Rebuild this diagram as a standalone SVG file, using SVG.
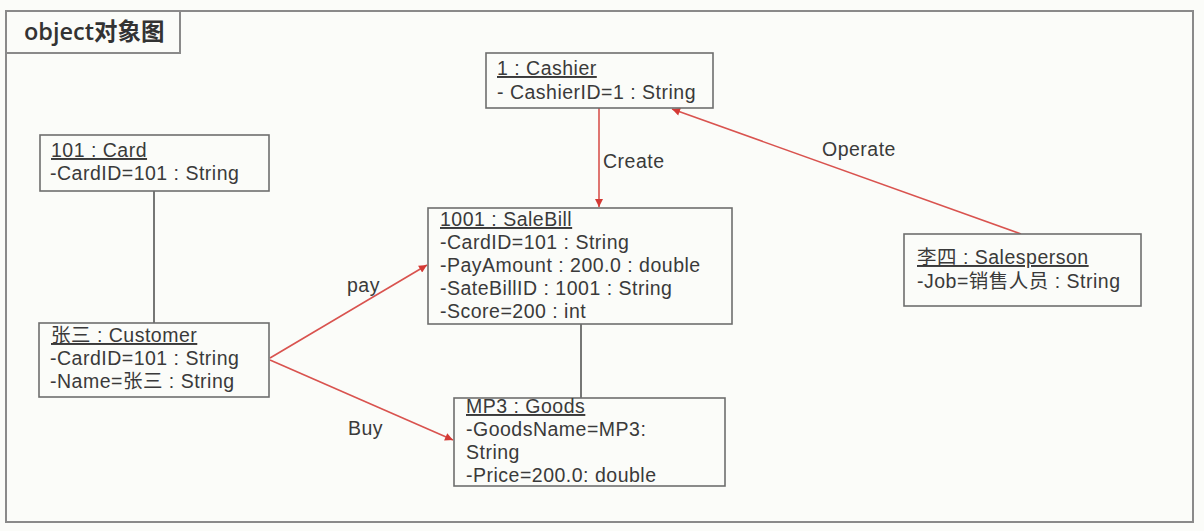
<svg xmlns="http://www.w3.org/2000/svg" width="1204" height="531" viewBox="0 0 1204 531">
<defs>
<style>
.bg{fill:#fbfcf9}
.frame{fill:none;stroke:#8a8a8a;stroke-width:2}
.box{fill:#fbfcf9;stroke:#6e6e6e;stroke-width:1.6}
.t{font-family:"Liberation Sans","Noto Sans CJK SC",sans-serif;font-size:19.5px;letter-spacing:0.5px;fill:#3a3a3a}
.title{font-family:"Open Sans","Noto Sans CJK SC",sans-serif;font-size:23.5px;font-weight:600;fill:#333}
.u{text-decoration:underline}
.red{stroke:#d9534f;stroke-width:1.6;fill:none}
.gray{stroke:#555;stroke-width:1.6;fill:none}
</style>
<marker id="ah" viewBox="0 0 10 10" refX="10" refY="5" markerWidth="9" markerHeight="8" markerUnits="userSpaceOnUse" orient="auto">
<path d="M0,0 L10,5 L0,10 z" fill="#d43a35"/>
</marker>
</defs>
<rect class="bg" x="0" y="0" width="1204" height="531"/>
<g id="frame">
<rect class="frame" x="6" y="11" width="1187" height="511"/>
<path class="frame" d="M6,53 L180,53 L180,11"/>
<text class="title" x="24" y="40">object对象图</text>
</g>
<g id="connectors">
<line class="gray" x1="154" y1="191" x2="154" y2="323"/>
<line class="gray" x1="581" y1="324" x2="581" y2="398"/>
<line class="red" x1="599" y1="108" x2="599" y2="207" marker-end="url(#ah)"/>
<line class="red" x1="1021" y1="234" x2="672" y2="109" marker-end="url(#ah)"/>
<line class="red" x1="270" y1="358" x2="427" y2="265" marker-end="url(#ah)"/>
<line class="red" x1="270" y1="360" x2="453" y2="440" marker-end="url(#ah)"/>
<text class="t" x="603" y="168">Create</text>
<text class="t" x="822" y="156">Operate</text>
<text class="t" x="347" y="292">pay</text>
<text class="t" x="348" y="435">Buy</text>
</g>
<g id="card">
<rect class="box" x="40" y="135" width="229" height="56"/>
<text class="t u" x="51" y="157">101 : Card</text>
<text class="t" x="50" y="180">-CardID=101 : String</text>
</g>
<g id="customer">
<rect class="box" x="39" y="323" width="230" height="74"/>
<text class="t u" x="51" y="342">张三 : Customer</text>
<text class="t" x="50" y="365">-CardID=101 : String</text>
<text class="t" x="50" y="388">-Name=张三 : String</text>
</g>
<g id="cashier">
<rect class="box" x="486" y="53" width="227" height="55"/>
<text class="t u" x="497" y="75">1 : Cashier</text>
<text class="t" x="497" y="99">- CashierID=1 : String</text>
</g>
<g id="salebill">
<rect class="box" x="428" y="208" width="304" height="116"/>
<text class="t u" x="440" y="226">1001 : SaleBill</text>
<text class="t" x="440" y="249">-CardID=101 : String</text>
<text class="t" x="440" y="272">-PayAmount : 200.0 : double</text>
<text class="t" x="440" y="295">-SateBillID : 1001 :  String</text>
<text class="t" x="440" y="318">-Score=200 : int</text>
</g>
<g id="goods">
<rect class="box" x="454" y="398" width="271" height="88"/>
<text class="t u" x="466" y="413">MP3 : Goods</text>
<text class="t" x="466" y="436">-GoodsName=MP3:</text>
<text class="t" x="466" y="459">String</text>
<text class="t" x="466" y="482">-Price=200.0: double</text>
</g>
<g id="salesperson">
<rect class="box" x="904" y="234" width="237" height="72"/>
<text class="t u" x="917" y="264">李四 : Salesperson</text>
<text class="t" x="917" y="288">-Job=销售人员 : String</text>
</g>
</svg>
